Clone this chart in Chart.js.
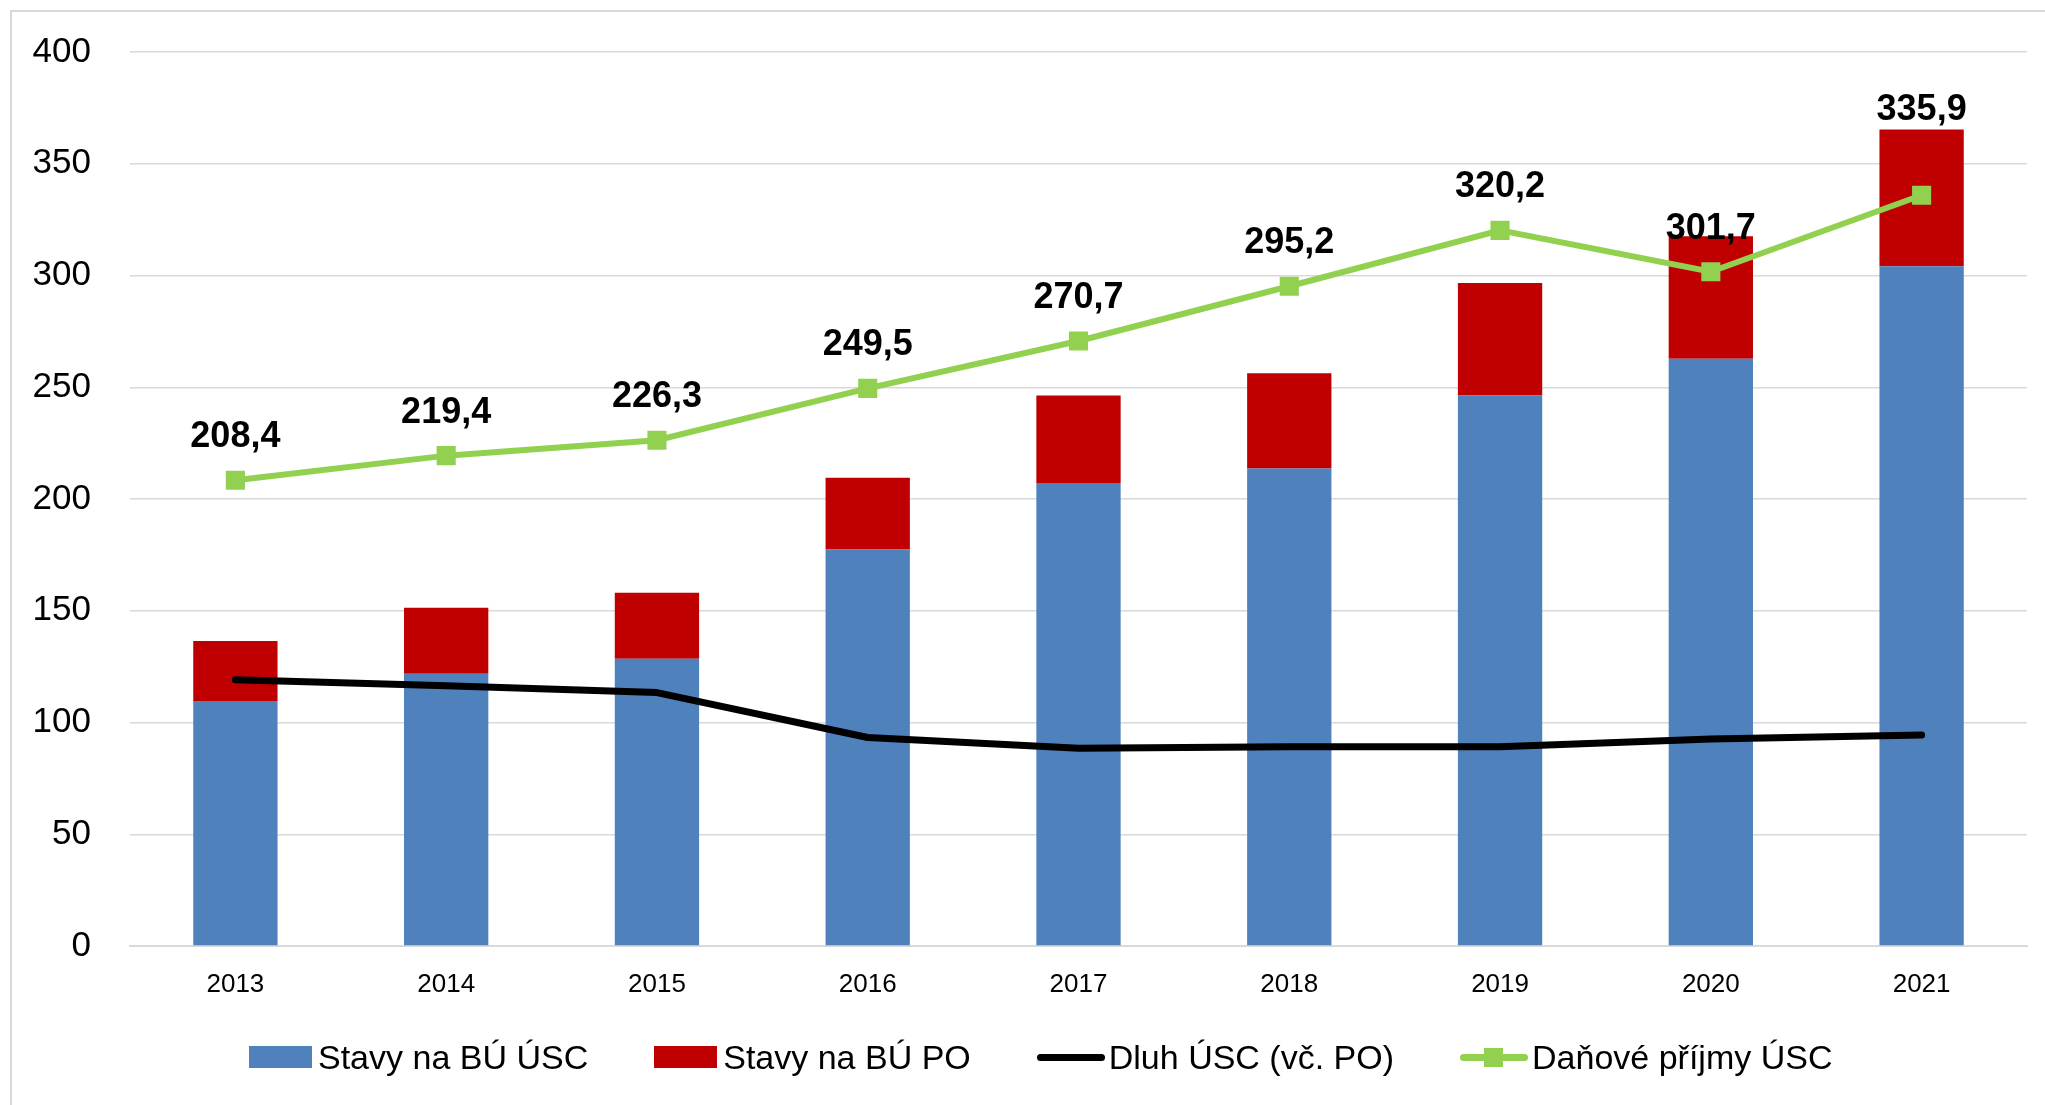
<!DOCTYPE html>
<html>
<head>
<meta charset="utf-8">
<script src="https://cdn.jsdelivr.net/npm/chart.js@4/dist/chart.umd.min.js"></script>
<style>
    body { margin: 0; background: #ffffff; font-family: 'Liberation Sans', Arial, sans-serif; }
    #frame { position: absolute; left: 10px; top: 10px; width: 2040px; height: 1100px; border-left: 2px solid #d9d9d9; border-top: 2px solid #d9d9d9; }
    #wrap { position: absolute; left: 0; top: 0; width: 2045px; height: 1105px; }
    #legend { position: absolute; left: 249px; top: 1037px; height: 40px; display: flex; align-items: center; font-size: 34px; color: #000; }
    .item { display: flex; align-items: center; margin-right: 66px; white-space: nowrap; }
    .sw { position: relative; width: 63px; height: 22px; margin-right: 6px; }
    .ln { position: relative; width: 68px; height: 7px; border-radius: 4px; margin-right: 4px; }
    .mk { position: absolute; left: 24px; top: -6px; width: 19px; height: 19px; }
</style>
</head>
<body>
<div id="frame"></div>
<div id="wrap"><canvas id="mainChart" width="2045" height="1105"></canvas></div>
<div id="legend"></div>
<script>
//categories
const years = ['2013', '2014', '2015', '2016', '2017', '2018', '2019', '2020', '2021'];

//stacked bars (mld. Kč)
const stavyUSC = [109.6, 121.8, 128.5, 177.4, 207.2, 213.6, 246.3, 262.7, 304.1];
const stavyPO = [26.9, 29.5, 29.5, 32.1, 39.1, 42.7, 50.3, 54.9, 61.2];

//lines
const dluhUSC = [119.1, 116.4, 113.4, 93.3, 88.5, 89.1, 89.1, 92.6, 94.4];
const danovePrijmy = [208.4, 219.4, 226.3, 249.5, 270.7, 295.2, 320.2, 301.7, 335.9];

//y axis ticks
const yMin = 0;
const yMax = 400;
const yStep = 50;

const fontName = "'Liberation Sans', Arial, sans-serif";

//writes the value above each point of the green line, czech decimal comma
//if the bar reaches well above the point the label goes above the bar
const pointLabels = {
    id: 'pointLabels',
    afterDatasetsDraw(chart) {
        const ctx = chart.ctx;
        const meta = chart.getDatasetMeta(3);
        const barMeta = chart.getDatasetMeta(1);
        ctx.save();
        ctx.font = 'bold 36px ' + fontName;
        ctx.fillStyle = '#000000';
        ctx.textAlign = 'center';
        ctx.textBaseline = 'alphabetic';
        meta.data.forEach(function(pt, i) {
            let y = pt.y - 33;
            const barTop = barMeta.data[i].y;
            if (pt.y - barTop > 50) {
                y = barTop - 10;
            }
            ctx.fillText(danovePrijmy[i].toFixed(1).replace('.', ','), pt.x, y);
        });
        ctx.restore();
    }
};

var mainConfig = {
    type: 'bar',
    data: {
        labels: years,
        datasets: [{
            label: 'Stavy na BÚ ÚSC',
            data: stavyUSC,
            backgroundColor: '#4f81bd',
            stack: 'bu',
            order: 2
        },
        {
            label: 'Stavy na BÚ PO',
            data: stavyPO,
            backgroundColor: '#c00000',
            stack: 'bu',
            order: 2
        },
        {
            type: 'line',
            label: 'Dluh ÚSC (vč. PO)',
            data: dluhUSC,
            borderColor: '#000000',
            backgroundColor: '#000000',
            borderWidth: 7,
            borderCapStyle: 'round',
            borderJoinStyle: 'round',
            pointRadius: 0,
            tension: 0,
            fill: false,
            stack: 'dluh',
            order: 1
        },
        {
            type: 'line',
            label: 'Daňové příjmy ÚSC',
            data: danovePrijmy,
            borderColor: '#92d050',
            backgroundColor: '#92d050',
            borderWidth: 6,
            pointStyle: 'rect',
            pointRadius: 13.5,
            pointBorderWidth: 0,
            pointBackgroundColor: '#92d050',
            tension: 0,
            fill: false,
            stack: 'dane',
            order: 0
        }]
    },
    options: {
        responsive: false,
        animation: false,
        events: [],
        layout: {
            padding: { top: 52, right: 18, bottom: 99, left: 0 }
        },
        datasets: {
            bar: {
                categoryPercentage: 1,
                barPercentage: 0.4
            }
        },
        scales: {
            x: {
                stacked: true,
                grid: { display: false, drawTicks: false },
                border: { display: true, color: '#d9d9d9', width: 2 },
                ticks: {
                    color: '#000000',
                    padding: 23,
                    font: { family: fontName, size: 26 }
                },
                afterFit: function(scale) { scale.height = 60; }
            },
            y: {
                stacked: true,
                min: yMin,
                max: yMax,
                grid: { color: '#d9d9d9', lineWidth: 1.5, drawTicks: false },
                border: { display: false },
                ticks: {
                    stepSize: yStep,
                    color: '#000000',
                    padding: 39,
                    font: { family: fontName, size: 35 }
                },
                //fixed width, and no extra room above the top tick
                afterFit: function(scale) {
                    scale.width = 130;
                    scale.paddingTop = 0;
                    scale.paddingBottom = 0;
                }
            }
        },
        plugins: {
            legend: { display: false },
            tooltip: { enabled: false },
            title: { display: false }
        }
    },
    plugins: [pointLabels]
};

//html legend built from the chart datasets
function buildLegend(chart) {
    const box = document.getElementById('legend');
    chart.data.datasets.forEach(function(ds) {
        const item = document.createElement('div');
        item.className = 'item';
        const sw = document.createElement('span');
        if (ds.type === 'line') {
            sw.className = 'ln';
            sw.style.background = ds.borderColor;
            if (ds.pointStyle === 'rect') {
                const mk = document.createElement('span');
                mk.className = 'mk';
                mk.style.background = ds.pointBackgroundColor;
                sw.appendChild(mk);
            }
        } else {
            sw.className = 'sw';
            sw.style.background = ds.backgroundColor;
        }
        const txt = document.createElement('span');
        txt.textContent = ds.label;
        item.appendChild(sw);
        item.appendChild(txt);
        box.appendChild(item);
    });
}

window.onload = function() {
    var ctx = document.getElementById('mainChart').getContext('2d');
    window.mainChart = new Chart(ctx, mainConfig);
    buildLegend(window.mainChart);
};
</script>
</body>
</html>
